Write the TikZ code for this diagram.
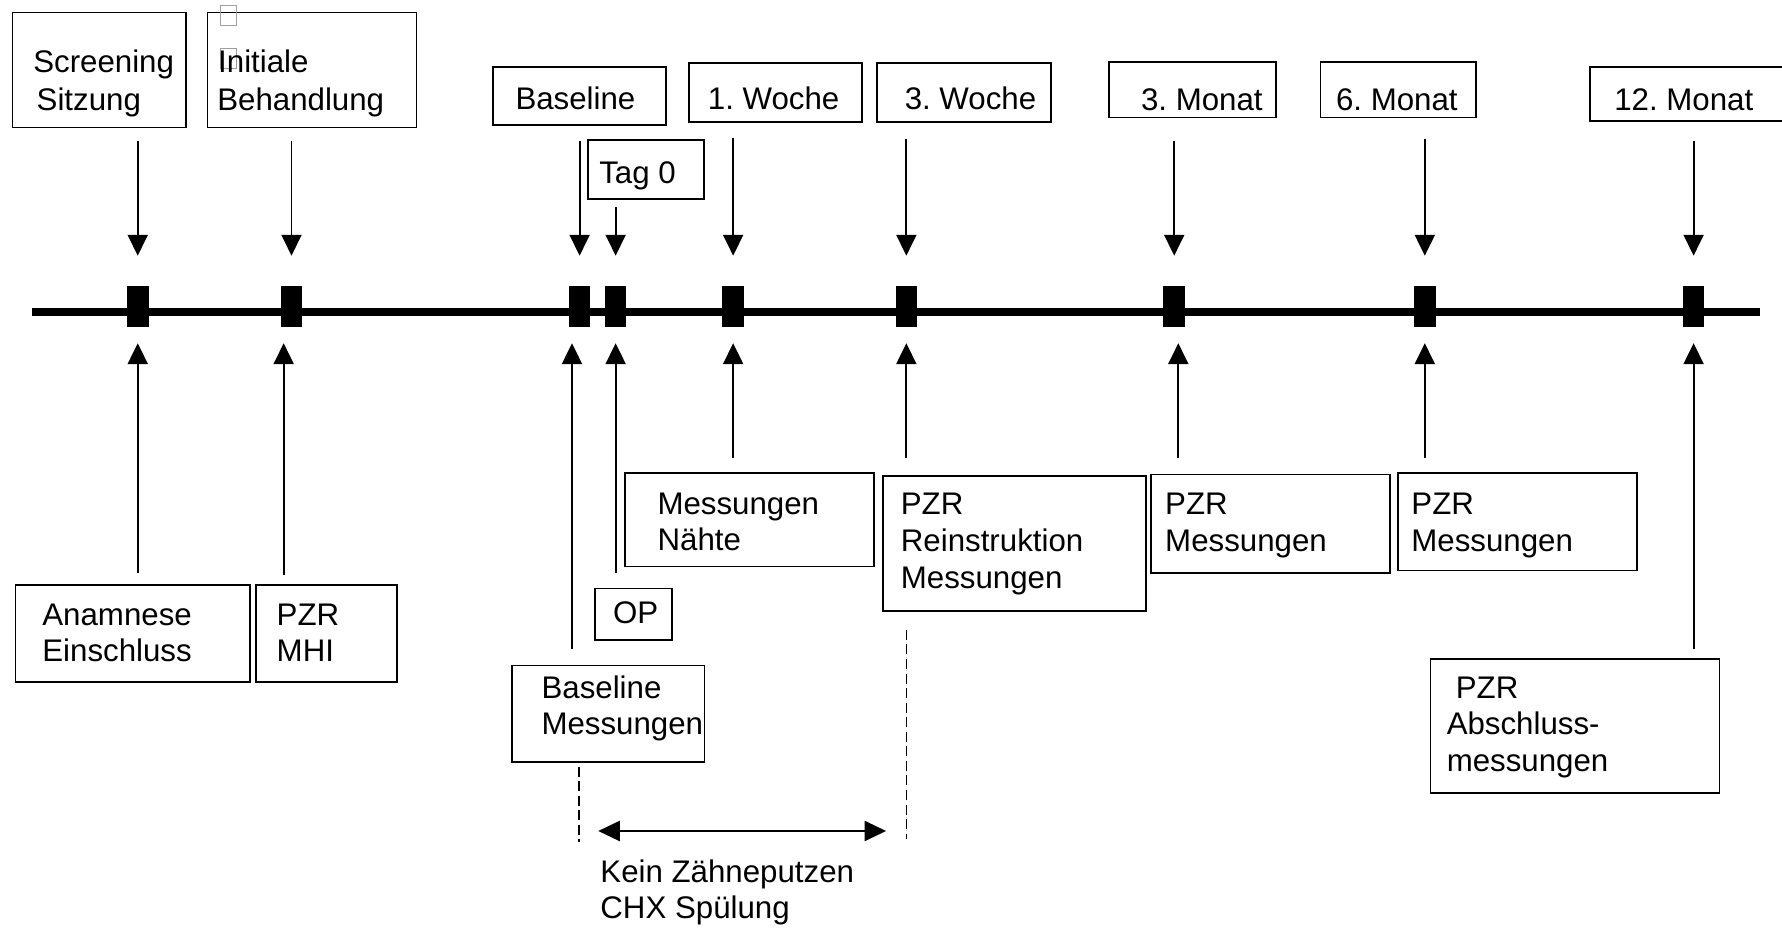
\documentclass[tikz,border=0pt]{standalone}
\usepackage{fontspec}
\setmainfont{Liberation Sans}
\usetikzlibrary{arrows.meta,fit}
\frenchspacing
\begin{document}
\begin{tikzpicture}[x=0.5pt,y=-0.5pt,
  every node/.style={font=\fontsize{13.75pt}{16.5pt}\selectfont},
  lbl/.style={anchor=base west, inner sep=0pt, outer sep=0pt},
  box/.style={draw, line width=0.75pt, inner sep=0pt, outer sep=0pt},
  tickbox/.style={fill=black, draw=none, minimum width=9.5pt, minimum height=18pt, inner sep=0pt, outer sep=0pt},
  glyph/.style={draw=gray!75, line width=0.45pt, minimum width=7.35pt, minimum height=8.7pt, inner sep=0pt},
  arr/.style={-{Triangle[length=9.2pt,width=8.8pt]}, line width=0.85pt},
  dn/.style={arr, shorten <=#1, shorten >=13.25pt},
  upa/.style={arr, shorten <=#1, shorten >=7.25pt},
  dashline/.style={line width=0.6pt, dash pattern=on 4.4pt off 2pt},
  dbl/.style={{Triangle[length=9.5pt,width=8.8pt]}-{Triangle[length=9.5pt,width=8.8pt]}, line width=1.1pt}
]
\useasboundingbox (0,0) rectangle (1568,817);
\clip (0,0) rectangle (1568,817);

% timeline
\coordinate (tl0) at (28.4,274.5);
\coordinate (tl1) at (1549,274.5);
\draw[line width=3.2pt] (tl0) -- (tl1);

% markers
\node[tickbox] (m1) at (121.2,269.5) {};
\node[tickbox] (m2) at (256.5,269.5) {};
\node[tickbox] (m3) at (510,269.5) {};
\node[tickbox] (m4) at (541.7,269.5) {};
\node[tickbox] (m5) at (645.1,269.5) {};
\node[tickbox] (m6) at (797.5,269.5) {};
\node[tickbox] (m7) at (1033.2,269.5) {};
\node[tickbox] (m8) at (1253.7,269.5) {};
\node[tickbox] (m9) at (1490.2,269.5) {};

% top boxes
\node[box, fit={(11.1,10.9) (163.7,112.3)}] (scr) {};
\node[box, fit={(182.7,10.9) (366.6,112.3)}] (ini) {};
\node[box, fit={(433.5,58.7) (586,109.7)}] (base) {};
\node[box, fit={(606,55.7) (758.2,107.1)}] (w1) {};
\node[box, fit={(771.7,55.7) (924.5,107.1)}] (w3) {};
\node[box, fit={(976,54.8) (1122.8,103.5)}] (mo3) {};
\node[box, fit={(1162,54.8) (1298.9,103.5)}] (mo6) {};
\node[box, fit={(1399,58.7) (1600,106.5)}] (mo12) {};
\node[box, fit={(517.4,123.2) (619.5,174.8)}] (tag) {};

% bottom boxes
\node[box, fit={(13.7,514.7) (220,599.8)}] (anam) {};
\node[box, fit={(225,514.7) (349.6,599.8)}] (mhi) {};
\node[box, fit={(450.5,585.7) (619.9,670.5)}] (bmess) {};
\node[box, fit={(523.6,517.7) (591.2,563.1)}] (op) {};
\node[box, fit={(549.9,416.5) (769.1,498.6)}] (naht) {};
\node[box, fit={(777,418.8) (1008.4,537.6)}] (reinst) {};
\node[box, fit={(1013,417.4) (1222.8,503.9)}] (pzrd) {};
\node[box, fit={(1230.4,415.9) (1440.6,502.1)}] (pzrs) {};
\node[box, fit={(1258.8,580.1) (1512.9,698)}] (absch) {};

% missing-glyph squares
\node[glyph] (g1) at (200.95,13.35) {};
\node[glyph] (g2) at (200.95,51.3) {};

% texts
\foreach \x/\y/\t [count=\i] in {
  29.3/64/Screening, 32.3/96.8/Sitzung,
  192/64/Initiale, 191.2/96.8/Behandlung,
  453.6/96.5/Baseline, 622.9/96.5/1. Woche, 796.1/96.5/3. Woche,
  1004/96.8/3. Monat, 1175.6/96.8/6. Monat, 1420.4/96.8/12. Monat,
  527.3/161.3/Tag 0,
  37.3/550/Anamnese, 37.3/582.2/Einschluss,
  243.5/550/PZR, 243.5/582.2/MHI,
  476.5/614.5/Baseline, 476.5/646.7/Messungen,
  539.4/549/OP,
  578.6/453.1/Messungen, 578.6/484.8/Nähte,
  792.7/453.1/PZR, 792.7/485.4/Reinstruktion, 792.7/517.7/Messungen,
  1025.3/453.1/PZR, 1025.3/485.4/Messungen,
  1241.9/453.1/PZR, 1241.9/485.4/Messungen,
  1281/614.5/PZR, 1273/646.7/Abschluss-, 1273/679/messungen,
  528.3/776.7/Kein Zähneputzen, 528.3/808/CHX Spülung}
  \node[lbl] (t\i) at (\x,\y) {\t};

% down arrows
\draw[dn=5.75pt] (scr.south -| m1) -- (m1.north);
\draw[dn=5.75pt] (ini.south -| m2) -- (m2.north);
\draw[dn=7.3pt] (base.south -| m3) -- (m3.north);
\draw[dn=3.8pt] (tag.south -| m4) -- (m4.north);
\draw[dn=7.3pt] (w1.south -| m5) -- (m5.north);
\draw[dn=7.75pt] (w3.south -| m6) -- (m6.north);
\draw[dn=10.15pt] (mo3.south -| m7) -- (m7.north);
\draw[dn=9.55pt] (mo6.south -| m8) -- (m8.north);
\draw[dn=8.95pt] (mo12.south -| m9) -- (m9.north);

% up arrows
\draw[upa=5.4pt] (anam.north -| m1) -- (m1.south);
\draw[upa=4.35pt] ([xshift=-3.45pt]m2.south |- mhi.north) -- ([xshift=-3.45pt]m2.south);
\draw[upa=7.2pt] ([xshift=-3.35pt]m3.south |- bmess.north) -- ([xshift=-3.35pt]m3.south);
\draw[upa=6.9pt] (op.north -| m4) -- (m4.south);
\draw[upa=6.75pt] (naht.north -| m5) -- (m5.south);
\draw[upa=7.9pt] (reinst.north -| m6) -- (m6.south);
\draw[upa=7.2pt] ([xshift=1.8pt]m7.south |- pzrd.north) -- ([xshift=1.8pt]m7.south);
\draw[upa=6.45pt] (pzrs.north -| m8) -- (m8.south);
\draw[upa=4.4pt] (absch.north -| m9) -- (m9.south);

% dashed period lines and double arrow
\coordinate (d1) at (509.5,740.6);
\coordinate (d2) at (797.4,738.5);
\draw[dashline, shorten <=2pt] (bmess.south -| d1) -- (d1);
\draw[dashline, shorten <=8.35pt] (reinst.south -| d2) -- (d2);
\coordinate (k1) at (526.4,731.2);
\coordinate (k2) at (779.7,731.2);
\draw[dbl] (k1) -- (k2);
\end{tikzpicture}
\end{document}
